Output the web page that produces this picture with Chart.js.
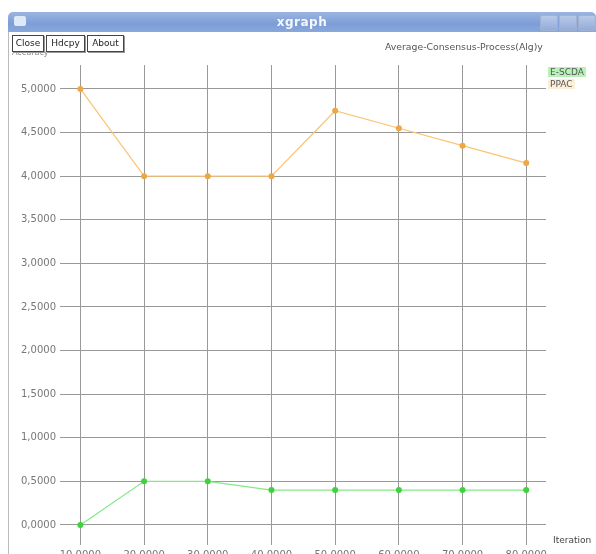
<!DOCTYPE html>
<html>
<head>
<meta charset="utf-8">
<script src="https://cdn.jsdelivr.net/npm/chart.js@4.4.1/dist/chart.umd.min.js"></script>
<style>
    html, body { margin: 0; padding: 0; width: 596px; height: 554px; overflow: hidden; background: #fff; font-family: "DejaVu Sans", sans-serif; }
    #wrap { position: absolute; left: 0; top: 0; width: 596px; height: 575px; }
    #titlebar { position: absolute; left: 8px; top: 12px; width: 588px; height: 20px; border-radius: 5px 5px 0 0;
        background: linear-gradient(#9bb5e2, #7d9dd6 60%, #89a8dc); }
    #titlebar .name { position: absolute; left: 0; right: 0; top: 3px; text-align: center; color: #f4f7fc; font-size: 12px; font-weight: bold; letter-spacing: 0.5px; }
    #titlebar .icon { position: absolute; left: 6px; top: 4px; width: 12px; height: 10px; background: #dfe8f6; border-radius: 2px; }
    .ctl { position: absolute; top: 3px; width: 16px; height: 14px; border: 1px solid #9fb2d6; background: linear-gradient(#b8c9e8, #93acd9); border-radius: 2px; }
    #frame { position: absolute; left: 8px; top: 32px; width: 1px; height: 540px; background: #bbb; }
    .btn { position: absolute; top: 35px; height: 15px; border: 1px solid #444; box-shadow: 1px 1px 0 #999; background: #fff;
        font-size: 9px; line-height: 15px; color: #222; text-align: center; z-index: 3; }
    .txt { position: absolute; font-size: 9px; color: #555; white-space: nowrap; z-index: 2; }
</style>
</head>
<body>
<div id="wrap"><canvas id="chart" width="596" height="575"></canvas></div>
<div id="titlebar">
    <div class="icon"></div>
    <div class="name">xgraph</div>
    <div class="ctl" style="left:532px"></div>
    <div class="ctl" style="left:551px"></div>
    <div class="ctl" style="left:570px"></div>
</div>
<div id="frame"></div>
<div class="btn" style="left:12px; width:30px">Close</div>
<div class="btn" style="left:46px; width:37px">Hdcpy</div>
<div class="btn" style="left:87px; width:35px">About</div>
<div class="txt" style="left:12px; top:48px; color:#888; font-size:8px">Accuracy</div>
<div class="txt" id="title" style="left:385px; top:41px; font-size:9.3px">Average-Consensus-Process(Alg)y</div>
<div class="txt" style="left:548px; top:67px; background:#b9f2b9; padding:0 2px">E-SCDA</div>
<div class="txt" style="left:548px; top:79px; background:#fcefd9; padding:0 2px">PPAC</div>
<div class="txt" style="left:553px; top:535px; color:#444">Iteration</div>

<script>
    // values
    const iterations = [10, 20, 30, 40, 50, 60, 70, 80];
    const escdaValues = [0.0, 0.5, 0.5, 0.4, 0.4, 0.4, 0.4, 0.4];
    const ppacValues = [5.0, 4.0, 4.0, 4.0, 4.75, 4.55, 4.35, 4.15];
    const yTicks = [0, 0.5, 1, 1.5, 2, 2.5, 3, 3.5, 4, 4.5, 5];
    const xTicks = [10, 20, 30, 40, 50, 60, 70, 80];

    function toPoints(values) {
        return iterations.map(function (x, i) { return { x: x, y: values[i] }; });
    }

    function fmt(v) {
        return v.toFixed(4).replace(".", ",");
    }

    const tickFont = { family: "DejaVu Sans", size: 10 };

    new Chart(document.getElementById("chart"), {
        type: "line",
        data: {
            datasets: [
                {
                    label: "E-SCDA",
                    data: toPoints(escdaValues),
                    borderColor: "#86e886",
                    backgroundColor: "#3fd23f",
                    borderWidth: 1.2,
                    pointRadius: 3,
                    pointBorderWidth: 0
                },
                {
                    label: "PPAC",
                    data: toPoints(ppacValues),
                    borderColor: "#fbc473",
                    backgroundColor: "#eda845",
                    borderWidth: 1.2,
                    pointRadius: 3,
                    pointBorderWidth: 0
                }
            ]
        },
        options: {
            responsive: false,
            animation: false,
            devicePixelRatio: 1,
            layout: { padding: { top: 65, right: 50, left: 0, bottom: 0 } },
            plugins: { legend: { display: false }, tooltip: { enabled: false } },
            scales: {
                x: {
                    type: "linear",
                    min: 6.8,
                    max: 83.1,
                    afterBuildTicks: function (scale) {
                        scale.ticks = xTicks.map(function (v) { return { value: v }; });
                    },
                    afterFit: function (scale) { scale.height = 30; },
                    grid: { color: "#999", drawTicks: false },
                    border: { display: false },
                    ticks: { padding: 4, color: "#777", font: tickFont, maxRotation: 0, callback: fmt }
                },
                y: {
                    min: -0.23,
                    max: 5.275,
                    afterBuildTicks: function (scale) {
                        scale.ticks = yTicks.map(function (v) { return { value: v }; });
                    },
                    afterFit: function (scale) { scale.width = 60; },
                    grid: { color: "#999", drawTicks: false },
                    border: { display: false },
                    ticks: { padding: 4, color: "#777", font: tickFont, callback: fmt }
                }
            }
        }
    });
</script>
</body>
</html>
